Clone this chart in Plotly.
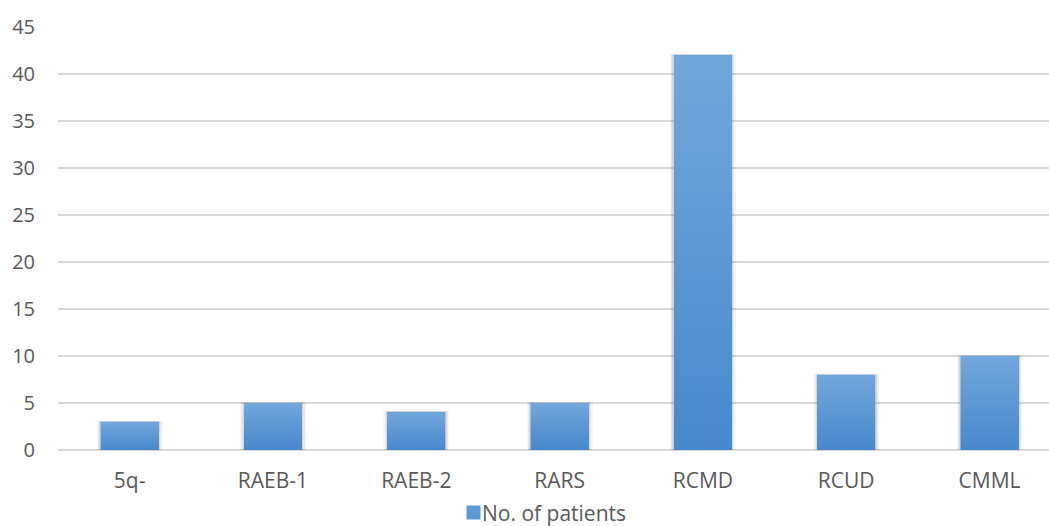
import plotly.graph_objects as go

# MDS subtype counts
categories = ["5q-", "RAEB-1", "RAEB-2", "RARS", "RCMD", "RCUD", "CMML"]
patients = [3, 5, 4, 5, 42, 8, 10]
series_name = "No. of patients"
y_ticks = [0, 5, 10, 15, 20, 25, 30, 35, 40, 45]

BAR_W = 0.405
MID_COLOR = "#5b9bd5"
TOP_COLOR = "#72a7dc"
BOTTOM_COLOR = "#4788cc"
FONT = "Open Sans, Liberation Sans, sans-serif"
TEXT_COLOR = "#595959"

idx = list(range(len(categories)))
fig = go.Figure()

# soft shadow behind each bar
for w, a in [(0.46, 0.035), (0.44, 0.05), (0.425, 0.07)]:
    fig.add_trace(go.Bar(
        x=idx, y=[v + 0.12 for v in patients], width=w,
        marker=dict(color=f"rgba(0,0,0,{a})", line=dict(width=0)),
        showlegend=False, hoverinfo="skip",
    ))

# base bars
fig.add_trace(go.Bar(
    x=idx, y=patients, width=BAR_W, name=series_name,
    marker=dict(color=MID_COLOR, line=dict(width=0)),
    showlegend=False,
))

# vertical gradient fill over each bar
for i, v in zip(idx, patients):
    x0, x1 = i - BAR_W / 2, i + BAR_W / 2
    fig.add_trace(go.Scatter(
        x=[x0, x1, x1, x0, x0], y=[0, 0, v, v, 0],
        mode="lines", fill="toself", line=dict(width=0),
        fillgradient=dict(type="vertical",
                          colorscale=[[0, BOTTOM_COLOR], [1, TOP_COLOR]]),
        showlegend=False, hoverinfo="skip",
    ))

# compact legend: swatch box + series name
LEG_Y = -0.148
fig.add_annotation(
    xref="paper", yref="paper", x=0.4188, y=LEG_Y,
    xanchor="center", yanchor="middle", showarrow=False,
    text="", width=13, height=13, borderpad=0,
    bgcolor=MID_COLOR,
)
fig.add_annotation(
    xref="paper", yref="paper", x=0.4265, y=LEG_Y,
    xanchor="left", yanchor="middle", showarrow=False,
    text=series_name, borderpad=0,
    font=dict(family=FONT, size=21, color=TEXT_COLOR),
)

fig.update_layout(
    width=1049, height=526,
    margin=dict(l=58, r=0, t=27, b=76, autoexpand=False),
    paper_bgcolor="white", plot_bgcolor="white",
    barmode="overlay", bargap=0,
    font=dict(family=FONT, color=TEXT_COLOR, size=21),
    showlegend=False,
    xaxis=dict(
        range=[-0.5, 6.415], tickmode="array", tickvals=idx,
        ticktext=categories, showgrid=False, zeroline=False,
        showline=False, ticks="", ticklabelstandoff=16,
        tickfont=dict(size=21, color=TEXT_COLOR),
    ),
    yaxis=dict(
        range=[0, 45], tickmode="array", tickvals=y_ticks,
        showgrid=True, gridcolor="#d9d9d9", gridwidth=1.5,
        zeroline=True, zerolinecolor="#d9d9d9", zerolinewidth=1.5,
        showline=False, ticks="", ticklabelstandoff=22,
        tickfont=dict(size=20, color=TEXT_COLOR),
    ),
)

fig.write_html("out.html")
